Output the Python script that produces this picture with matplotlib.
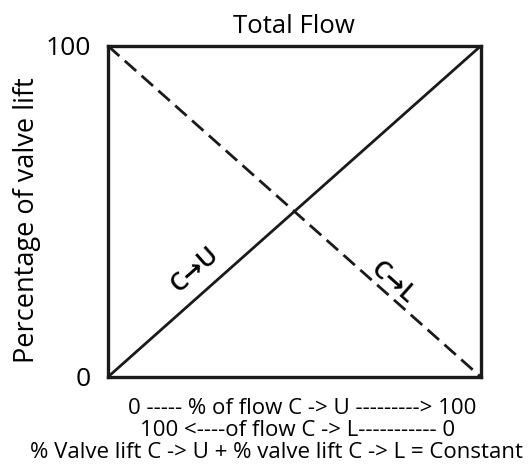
import matplotlib.pyplot as plt

plt.rcParams['font.family'] = ['Open Sans', 'DejaVu Sans']

# data
flow_pct = [0, 100]
lift_cu = [0, 100]
lift_cl = [100, 0]
yticks = [0, 100]
notes = ['0 ----- % of flow C -> U ---------> 100',
         '100 <----of flow C -> L----------- 0',
         '% Valve lift C -> U + % valve lift C -> L = Constant']

fig = plt.figure(figsize=(5.29, 4.71), dpi=100)
ax = fig.add_axes([0.204, 0.1996, 0.705, 0.703])

ax.plot(flow_pct, lift_cu, color='#1a1a1a', lw=2.0, solid_capstyle='butt')
ax.plot(flow_pct, lift_cl, color='#1a1a1a', lw=2.0, linestyle=(0, (5.5, 2.6)))

ax.set_xlim(0, 100)
ax.set_ylim(0, 100)
ax.set_xticks([])
ax.set_yticks(yticks)
ax.set_yticklabels([str(v) for v in yticks], fontsize=19)
ax.tick_params(axis='y', length=0, pad=12)
for s in ax.spines.values():
    s.set_linewidth(2.4)
    s.set_color('#1a1a1a')

ax.set_title('Total Flow', fontsize=18.5, pad=9)
ax.set_ylabel('Percentage of valve lift', fontsize=19.5)
ax.yaxis.set_label_coords(-0.18, 0.474)

ax.text(23.3, 32.3, 'C\u2192U', rotation=41.6, fontsize=18, ha='center', va='center',
        weight='semibold', rotation_mode='anchor')
ax.text(76.4, 28.5, 'C\u2192L', rotation=-41.6, fontsize=18, ha='center', va='center',
        weight='semibold', rotation_mode='anchor')

note_x = [302, 298, 276]
for i, t in enumerate(notes):
    fig.text(note_x[i] / 529, 1 - (408 + 22 * i) / 471, t, fontsize=16, ha='center', va='center')

fig.savefig('out.png', dpi=100)
